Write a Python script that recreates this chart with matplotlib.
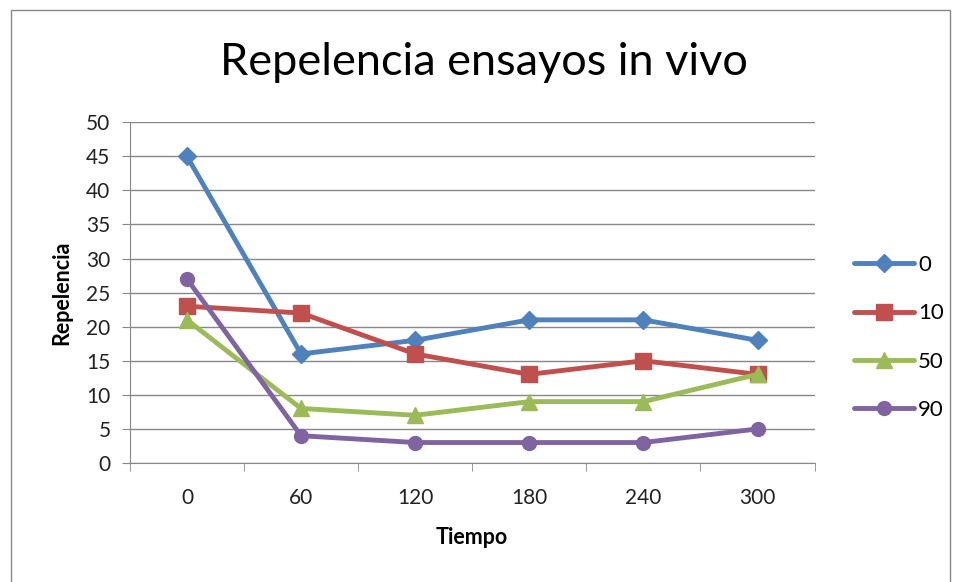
import numpy as np
import matplotlib.pyplot as plt
from matplotlib.patches import Rectangle

plt.rcParams['font.family'] = ['Lato', 'DejaVu Sans']

tiempo = ['0', '60', '120', '180', '240', '300']
series_names = ['0', '10', '50', '90']
s0 = [45, 16, 18, 21, 21, 18]
s10 = [23, 22, 16, 13, 15, 13]
s50 = [21, 8, 7, 9, 9, 13]
s90 = [27, 4, 3, 3, 3, 5]

colors = ['#4F81BD', '#C0504D', '#9BBB59', '#8064A2']
markers = ['D', 's', '^', 'o']
msizes = [9, 11, 11, 10]

fig = plt.figure(figsize=(9.55, 5.82), dpi=100)
ax = fig.add_axes([0.136, 0.2045, 0.717, 0.5855])

# chart border
fig.patches.append(Rectangle((0.011, -0.01), 0.984, 0.993, transform=fig.transFigure,
                             fill=False, edgecolor='#888888', linewidth=1))

x = np.arange(len(tiempo))
for vals, name, c, m, ms in zip([s0, s10, s50, s90], series_names, colors, markers, msizes):
    ax.plot(x, vals, color=c, marker=m, markersize=ms, linewidth=3.5, label=name,
            solid_capstyle='round', zorder=3)

ax.set_xlim(-0.5, 5.5)
ax.set_ylim(0, 50)
ax.set_yticks(range(0, 51, 5))
ax.set_xticks(x)
ax.set_xticklabels(tiempo)
ax.set_xticks(np.arange(-0.5, 6, 1), minor=True)
ax.tick_params(axis='x', which='major', length=0, pad=18, labelsize=15, labelcolor='#222222')
ax.tick_params(axis='x', which='minor', length=6, color='#888888', direction='out')
ax.tick_params(axis='y', length=6, color='#888888', labelsize=15, pad=8, labelcolor='#222222')
ax.grid(axis='y', color='#888888', linewidth=1)
ax.set_axisbelow(True)
for sp in ['top', 'right']:
    ax.spines[sp].set_visible(False)
for sp in ['left', 'bottom']:
    ax.spines[sp].set_color('#888888')

ax.set_xlabel('Tiempo', fontsize=15.5, fontweight='bold', labelpad=14)
ax.set_ylabel('Repelencia', fontsize=15.5, fontweight='bold', labelpad=10)
fig.text(0.507, 0.893, 'Repelencia ensayos in vivo', fontsize=32.5, ha='center', va='center')

fig.legend(loc='center left', bbox_to_anchor=(0.873, 0.42), frameon=False,
           fontsize=16, handlelength=2.7, labelspacing=1.28, handletextpad=0.2)

fig.savefig('out.png', dpi=100)
